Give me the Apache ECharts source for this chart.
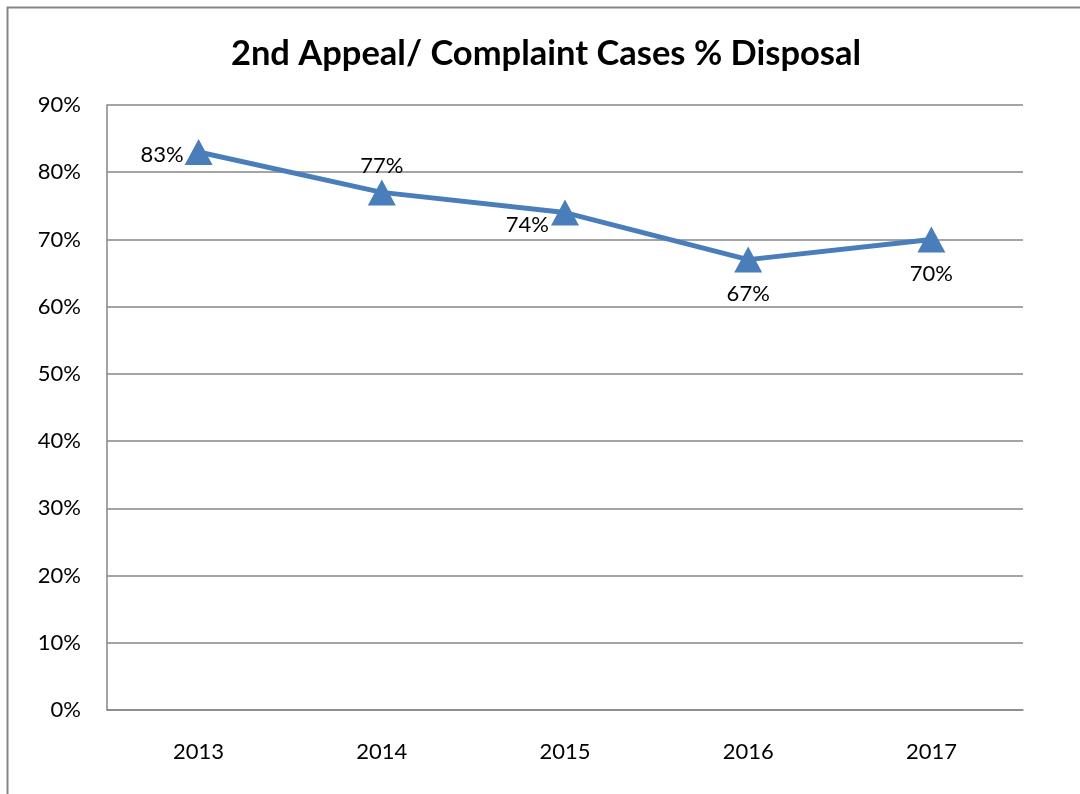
<!DOCTYPE html>
<html>
<head>
<meta charset="utf-8">
<script src="https://cdn.jsdelivr.net/npm/echarts@6/dist/echarts.min.js"></script>
<style>
html,body{margin:0;padding:0;background:#fff;}
#chart{width:1080px;height:794px;}
</style>
</head>
<body>
<div id="chart"></div>
<script>
const years = ['2013', '2014', '2015', '2016', '2017'];
const disposal = [83, 77, 74, 67, 70];
const labelPositions = ['left', 'top', 'left', 'bottom', 'bottom'];
const titleText = '2nd Appeal/ Complaint Cases % Disposal';

const FONT = 'Lato, "Open Sans", sans-serif';
const labelExtra = [
  { distance: 1, offset: [0, 3] },
  { distance: 2, offset: [0, 0] },
  { distance: 2, offset: [0, 12] },
  { distance: 10, offset: [0, 0] },
  { distance: 10, offset: [0, 0] }
];
const chart = echarts.init(document.getElementById('chart'));
chart.setOption({
  animation: false,
  backgroundColor: '#fff',
  title: {
    text: titleText,
    left: 541, top: 31, textAlign: 'center',
    textStyle: { fontFamily: FONT, fontWeight: 'bold', fontSize: 34.5, color: '#000' }
  },
  graphic: [{
    type: 'rect',
    shape: { x: 7.5, y: 7.5, width: 1200, height: 900 },
    style: { fill: 'none', stroke: '#868686', lineWidth: 2 },
    silent: true
  }],
  grid: { left: 107, right: 57, top: 105, bottom: 84 },
  xAxis: {
    type: 'category',
    data: years,
    boundaryGap: true,
    axisLine: { show: true, lineStyle: { color: '#868686', width: 1.5 } },
    axisTick: { show: false },
    axisLabel: { fontFamily: FONT, fontSize: 22, color: '#000', margin: 31 }
  },
  yAxis: {
    type: 'value',
    min: 0, max: 90, interval: 10,
    axisLine: { show: true, lineStyle: { color: '#868686', width: 1.5 } },
    axisTick: { show: false },
    splitLine: { show: true, lineStyle: { color: '#868686', width: 1.5 } },
    axisLabel: { fontFamily: FONT, fontSize: 22, color: '#000', margin: 26, formatter: '{value}%' }
  },
  series: [{
    type: 'line',
    data: disposal.map((v, i) => ({
      value: v,
      label: Object.assign({ position: labelPositions[i] }, labelExtra[i])
    })),
    symbol: 'triangle',
    symbolSize: [28, 26],
    lineStyle: { color: '#4A7EBB', width: 5 },
    itemStyle: { color: '#4A7EBB' },
    label: {
      show: true,
      formatter: '{c}%',
      fontFamily: FONT, fontSize: 22, color: '#000'
    }
  }]
});
</script>
</body>
</html>
